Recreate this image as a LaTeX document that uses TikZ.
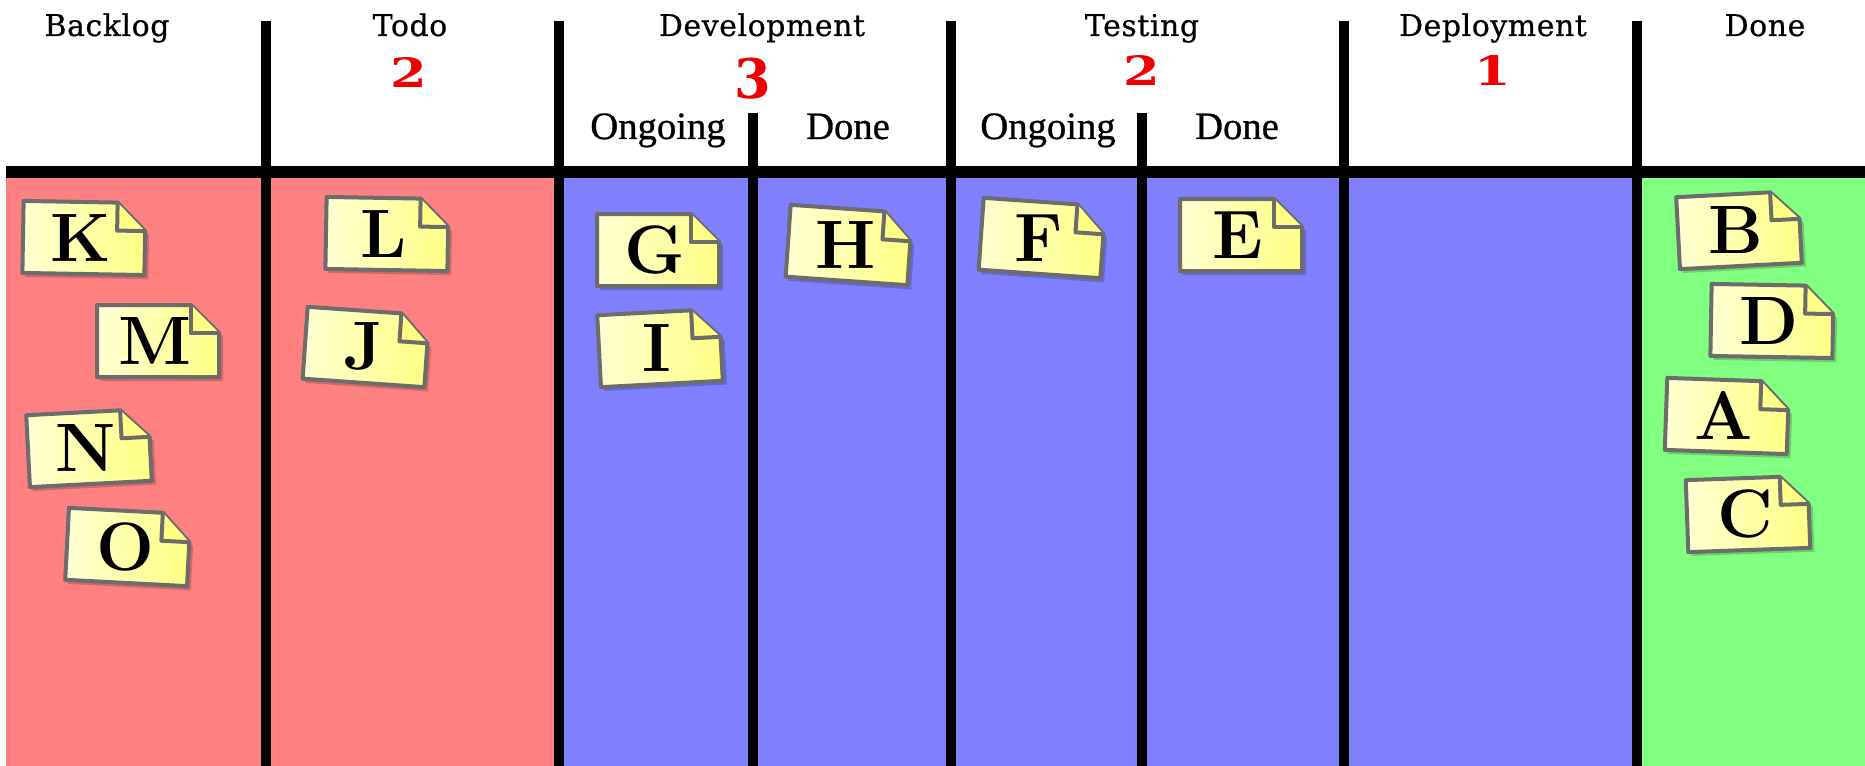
\documentclass[tikz,border=0pt]{standalone}
\usepackage{fontspec}
\newfontfamily\headfont[LetterSpace=2, FakeBold=0.6]{DejaVu Serif}
\newfontfamily\subfont[FakeBold=0.8]{Liberation Serif}
\newfontfamily\wipfont{DejaVu Serif}
\usepackage{tikz}
\usetikzlibrary{positioning, calc}

\definecolor{queuered}{HTML}{FF8080}
\definecolor{workblue}{HTML}{8080FF}
\definecolor{finishgreen}{HTML}{80FF80}
\definecolor{notegray}{HTML}{6C6C6C}
\definecolor{notepale}{HTML}{FFFFD2}
\definecolor{noteyellow}{HTML}{FFFF84}
\definecolor{wipred}{HTML}{EE0000}

\tikzset{
  sticky/.pic={
    \fill[black, opacity=.18] (-58,-32) -- (37,-32) -- (65,-4) -- (65,40) -- (-58,40) -- cycle;
    \path[left color=notepale, right color=noteyellow, draw=notegray, line width=.8mm, line join=round]
      (-61,-36) -- (33,-36) -- (61,-8) -- (61,36) -- (-61,36) -- cycle;
    \fill[noteyellow] (33,-36) -- (33,-8) -- (61,-8) -- cycle;
    \draw[notegray, line width=.8mm, line join=round] (33,-36) -- (33,-8) -- (61,-8);
    \node[letter] (-txt) at (-3,0) {#1};
  }
}

\begin{document}
\begin{tikzpicture}[x=0.2mm, y=-0.2mm,
    head/.style={font=\headfont\fontsize{17}{18}\selectfont, anchor=base, inner sep=0},
    sub/.style={font=\subfont\fontsize{22}{24}\selectfont, anchor=base, inner sep=0},
    wip/.style={font=\wipfont\bfseries\fontsize{23}{24}\selectfont, text=wipred, anchor=base, inner sep=0},
    letter/.style={font=\fontsize{39}{39}\selectfont\bfseries\addfontfeatures{FakeBold=1}, inner sep=0},
    rule/.style={fill=black}]
  \useasboundingbox (0,0) rectangle (1865,766);
  \fill[white] (0,0) rectangle (1865,766);

  % lanes
  \fill[queuered] (6,178) rectangle (559,766);
  \fill[workblue] (559,178) rectangle (1637,766);
  \fill[finishgreen] (1637,178) rectangle (1865,766);

  % board rules
  \fill[rule] (6,166) rectangle (1865,178);
  \foreach \x in {266,559,951,1344,1637}
    \fill[rule] (\x-5,21) rectangle (\x+5,766);
  \foreach \x in {753,1142}
    \fill[rule] (\x-5,113) rectangle (\x+5,766);

  % column titles
  \node[head] (backlog) at (107,36) {Backlog};
  \node[head] (todo) at (410,36) {Todo};
  \node[head] (dev) at (762,36) {Development};
  \node[head] (test) at (1142,36) {Testing};
  \node[head] (deploy) at (1493,36) {Deployment};
  \node[head] (done) at (1765,36) {Done};

  % limits
  \node[wip] (todolim) at (409,88) {\scalebox{1.3}[1]{2}};
  \node[wip] (devlim) at (753,99) {\scalebox{1.3}[1.35]{3}};
  \node[wip] (testlim) at (1142,86) {\scalebox{1.3}[1]{2}};
  \node[wip] (deploylim) at (1493,86) {\scalebox{1.3}[1]{1}};

  \node[sub] (devgo) at (658,139) {Ongoing};
  \node[sub] (devdone) at (848,139) {Done};
  \node[sub] (testgo) at (1048,139) {Ongoing};
  \node[sub] (testdone) at (1237,139) {Done};

  % cards
  \foreach \t/\x/\y/\r in {K/84/238/-1, M/158/341/0, N/89/448/3, O/128/547/-3,
      L/387/234/-1, J/366/347/-4, G/658/250/0, I/660/348/3, H/849/245/-4,
      F/1042/238/-4, E/1241/235/0, B/1739/230/3, D/1772/321/-1, A/1727/416/-2,
      C/1748/514/2}
    \pic[rotate=\r] (\t) at (\x,\y) {sticky=\t};
\end{tikzpicture}
\end{document}
